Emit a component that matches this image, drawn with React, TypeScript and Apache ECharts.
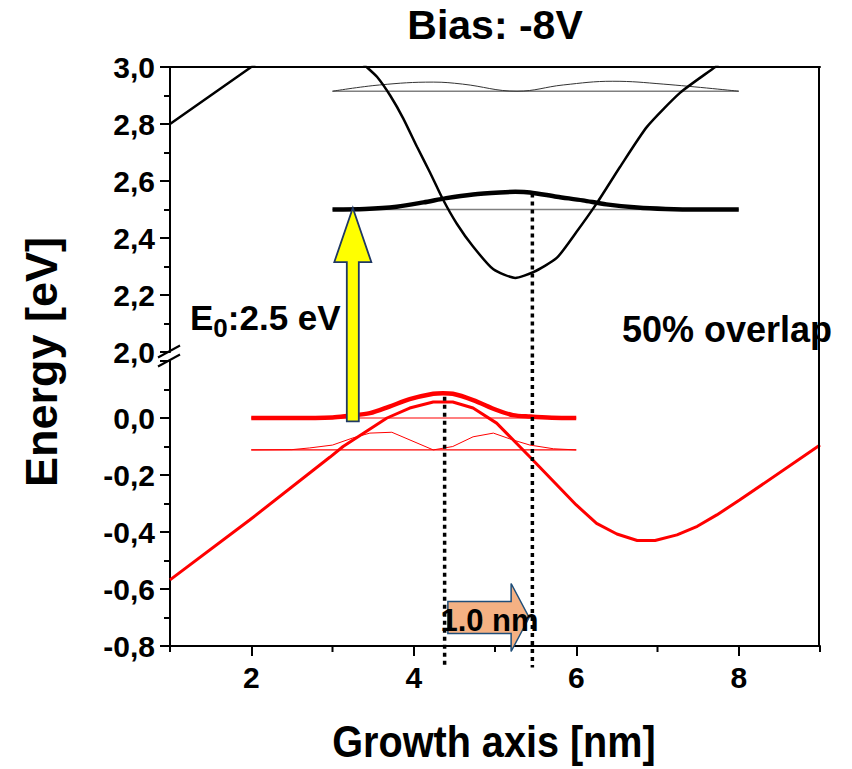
import React, { useEffect, useRef } from "react";
import * as echarts from "echarts";

// ---------- data ----------
// Upper panel: conduction band (eV)
const cbBarrierX = [1.0, 1.5, 2.0, 2.1];
const cbBarrierY = [2.8, 2.9, 3.0, 3.02];
const cbWellX = [3.38, 3.42, 3.55, 3.71, 3.87, 4.04, 4.2, 4.36, 4.53, 4.73, 4.98, 5.25, 5.47, 5.76, 6.0, 6.26, 6.54, 6.87, 7.28, 7.71, 7.75];
const cbWellY = [3.01, 3.0, 2.965, 2.9, 2.82, 2.72, 2.63, 2.535, 2.45, 2.37, 2.29, 2.26, 2.28, 2.33, 2.42, 2.525, 2.65, 2.79, 2.91, 3.0, 3.01];
// electron ground state level and wavefunction
const e1LevelX = [3, 8];
const e1LevelY = [2.5, 2.5];
const e1WaveX = [3, 3.4, 3.79, 4.12, 4.4, 4.73, 5.06, 5.25, 5.43, 5.76, 6.08, 6.37, 6.75, 7.1, 7.5, 8];
const e1WaveY = [2.5, 2.502, 2.51, 2.525, 2.54, 2.553, 2.56, 2.562, 2.56, 2.545, 2.532, 2.518, 2.507, 2.502, 2.5, 2.5];
// electron excited state
const e2LevelX = [3, 8];
const e2LevelY = [2.915, 2.915];
const e2WaveX = [3, 3.58, 4.24, 4.6, 5.27, 5.84, 6.45, 7.07, 8];
const e2WaveY = [2.915, 2.937, 2.947, 2.94, 2.915, 2.937, 2.95, 2.94, 2.915];

// Lower panel: valence band (eV)
const vbX = [1.0, 1.98, 2.97, 3.13, 3.67, 3.95, 4.24, 4.48, 4.73, 5.02, 5.43, 6.0, 6.25, 6.5, 6.75, 6.97, 7.24, 7.49, 7.73, 8.01, 9.0];
const vbY = [-0.568, -0.358, -0.137, -0.1, 0.0, 0.035, 0.056, 0.056, 0.035, -0.018, -0.137, -0.305, -0.37, -0.407, -0.43, -0.43, -0.41, -0.38, -0.34, -0.288, -0.095];
// hole ground state
const h1LevelX = [2, 6];
const h1LevelY = [0, 0];
const h1WaveX = [2, 2.5, 3.0, 3.2, 3.46, 3.7, 3.95, 4.24, 4.36, 4.48, 4.73, 5.02, 5.22, 5.43, 5.7, 6];
const h1WaveY = [0, 0, 0.002, 0.008, 0.017, 0.04, 0.066, 0.085, 0.087, 0.085, 0.063, 0.028, 0.01, 0.005, 0.001, 0];
// hole excited state
const h2LevelX = [2, 6];
const h2LevelY = [-0.112, -0.112];
const h2WaveX = [2, 2.5, 2.72, 3.0, 3.25, 3.46, 3.73, 4.24, 4.48, 4.73, 4.98, 5.22, 5.43, 5.72, 6];
const h2WaveY = [-0.112, -0.111, -0.105, -0.095, -0.07, -0.053, -0.05, -0.112, -0.1, -0.066, -0.053, -0.077, -0.095, -0.108, -0.112];

// dotted markers (wavefunction maxima)
const dot1X = [4.38, 4.38];
const dot1LowerY = [0.075, -0.875];
const dot2X = [5.46, 5.46];
const dot2UpperY = [2.556, 1.965];
const dot2LowerY = [0.2, -0.875];

// axes
const xTickMajor = [2, 4, 6, 8];
const xTickMinor = [1, 3, 5, 7, 9];
const upperRange = [2.0, 3.0];
const lowerRange = [-0.8, 0.2];

// annotations (data coordinates)
const transitionX = 3.25; // yellow arrow
const transitionFrom = -0.012;
const transitionTo = 2.505;
const shiftFromX = 4.42; // orange arrow
const shiftToX = 5.42;
const shiftY = -0.7;

const FONT = '"Liberation Sans", Arial, Helvetica, sans-serif';

const toPairs = (xs: number[], ys: number[]) => xs.map((x, i) => [x, ys[i]]);

function line(grid: number, xs: number[], ys: number[], color: string, width: number, extra: any = {}) {
  return {
    type: "line",
    xAxisIndex: grid,
    yAxisIndex: grid,
    data: toPairs(xs, ys),
    symbol: "none",
    silent: true,
    lineStyle: { color, width },
    itemStyle: { color },
    ...extra,
  };
}

const fmt = (v: number) => (v > 0.15 && v < 1 ? "" : v.toFixed(1).replace(".", ","));

const yAxisCommon = {
  type: "value",
  interval: 0.2,
  axisLine: { show: true, onZero: false, lineStyle: { color: "#000", width: 2 } },
  axisTick: { show: true, inside: false, length: 10, lineStyle: { color: "#000", width: 2 } },
  minorTick: { show: true, splitNumber: 2, length: 6, lineStyle: { color: "#000", width: 2 } },
  splitLine: { show: false },
  axisLabel: {
    color: "#000",
    fontFamily: FONT,
    fontWeight: "bold",
    fontSize: 30,
    margin: 15,
    formatter: fmt,
    showMinLabel: true,
    showMaxLabel: true,
    hideOverlap: false,
  },
};

const option: any = {
  animation: false,
  backgroundColor: "#fff",
  grid: [
    { left: 170, top: 67, width: 650, height: 285, outerBoundsMode: "none", containLabel: false },
    { left: 170, top: 361, width: 650, height: 285, outerBoundsMode: "none", containLabel: false },
  ],
  xAxis: [
    {
      type: "value",
      gridIndex: 0,
      position: "top",
      min: 1,
      max: 9,
      interval: 1,
      axisLine: { show: true, onZero: false, lineStyle: { color: "#000", width: 2 } },
      axisTick: { show: false },
      axisLabel: { show: false },
      splitLine: { show: false },
    },
    {
      type: "value",
      gridIndex: 1,
      position: "bottom",
      min: 1,
      max: 9,
      interval: 1,
      axisLine: { show: true, onZero: false, lineStyle: { color: "#000", width: 2 } },
      axisTick: { show: true, inside: false, length: 10, customValues: xTickMajor, lineStyle: { color: "#000", width: 2 } },
      axisLabel: {
        color: "#000",
        fontFamily: FONT,
        fontWeight: "bold",
        fontSize: 30,
        margin: 16,
        customValues: xTickMajor,
        formatter: (v: number) => String(v),
      },
      splitLine: { show: false },
    },
  ],
  yAxis: [
    { ...yAxisCommon, gridIndex: 0, position: "left", min: upperRange[0], max: upperRange[1] },
    { ...yAxisCommon, gridIndex: 1, position: "left", min: lowerRange[0], max: lowerRange[1] },
  ],
  series: [
    // upper panel
    line(0, e2LevelX, e2LevelY, "#808080", 1.5),
    line(0, e2WaveX, e2WaveY, "#333", 1, { smooth: 0.4 }),
    line(0, e1LevelX, e1LevelY, "#808080", 1.5),
    line(0, cbBarrierX, cbBarrierY, "#000", 2.5),
    line(0, cbWellX, cbWellY, "#000", 2.5, { smooth: 0.2 }),
    line(0, e1WaveX, e1WaveY, "#000", 4.5, { smooth: 0.3 }),
    line(0, dot2X, dot2UpperY, "#000", 3.5, { clip: false, lineStyle: { color: "#000", width: 3.5, type: [4, 4] } }),
    // lower panel
    line(1, h1LevelX, h1LevelY, "#ff0000", 1.2),
    line(1, h2LevelX, h2LevelY, "#ff0000", 1.2),
    line(1, h2WaveX, h2WaveY, "#ff0000", 1),
    line(1, vbX, vbY, "#ff0000", 3),
    line(1, h1WaveX, h1WaveY, "#ff0000", 4.5, { smooth: 0.3 }),
    line(1, dot1X, dot1LowerY, "#000", 3.5, { clip: false, lineStyle: { color: "#000", width: 3.5, type: [4, 4] } }),
    line(1, dot2X, dot2LowerY, "#000", 3.5, { clip: false, lineStyle: { color: "#000", width: 3.5, type: [4, 4] } }),
  ],
};

export default function App() {
  const ref = useRef<HTMLDivElement>(null);
  useEffect(() => {
    const chart = echarts.init(ref.current!, null, { renderer: "svg" });
    chart.setOption(option);

    const p0 = (x: number, y: number) => chart.convertToPixel({ gridIndex: 0 }, [x, y]) as number[];
    const p1 = (x: number, y: number) => chart.convertToPixel({ gridIndex: 1 }, [x, y]) as number[];
    const g0a = p0(1, upperRange[1]);
    const g1b = p1(9, lowerRange[0]);
    const gBreakTop = p0(1, upperRange[0]);
    const gBreakBot = p1(1, lowerRange[1]);

    // yellow transition arrow
    const [tx, ty] = p0(transitionX, transitionTo);
    const [, by] = p1(transitionX, transitionFrom);
    const headH = 54, headW = 18.5, shaftW = 6;
    const yellowPts = [
      [tx, ty], [tx + headW, ty + headH], [tx + shaftW, ty + headH], [tx + shaftW, by],
      [tx - shaftW, by], [tx - shaftW, ty + headH], [tx - headW, ty + headH],
    ];
    // orange shift arrow
    const [lx, cy] = p1(shiftFromX, shiftY);
    const [rx] = p1(shiftToX, shiftY);
    const sH = 16, hH = 34, hL = 18;
    const orangePts = [
      [lx, cy - sH], [rx - hL, cy - sH], [rx - hL, cy - hH], [rx, cy],
      [rx - hL, cy + hH], [rx - hL, cy + sH], [lx, cy + sH],
    ];

    const rightX = g1b[0] - 1;
    const leftX = g0a[0];
    const bottomY = g1b[1];
    const breakMid = (gBreakTop[1] + gBreakBot[1]) / 2;

    // minor x ticks (odd values), positioned through the x scale
    const minorTicks = xTickMinor.map((v) => {
      const [px] = p1(v, lowerRange[0]);
      return { type: "line", z: 5, shape: { x1: px, y1: bottomY, x2: px, y2: bottomY + 6 }, style: { stroke: "#000", lineWidth: 2 } };
    });

    chart.setOption({
      graphic: [
        ...minorTicks,
        // right frame line
        { type: "line", z: 5, shape: { x1: rightX, y1: g0a[1], x2: rightX, y2: g1b[1] }, style: { stroke: "#000", lineWidth: 2 } },
        // axis break marks
        { type: "line", z: 5, shape: { x1: leftX - 12, y1: breakMid + 1, x2: leftX + 10, y2: breakMid - 11 }, style: { stroke: "#000", lineWidth: 2 } },
        { type: "line", z: 5, shape: { x1: leftX - 12, y1: breakMid + 10, x2: leftX + 10, y2: breakMid - 2 }, style: { stroke: "#000", lineWidth: 2 } },
        // orange arrow (under dotted lines)
        { type: "polygon", z: 1, shape: { points: orangePts }, style: { fill: "#F4B183", stroke: "#1F4E79", lineWidth: 1.5 } },
        // yellow arrow
        { type: "polygon", z: 50, shape: { points: yellowPts }, style: { fill: "#FFFF00", stroke: "#1F3864", lineWidth: 1.8 } },
        // texts
        { type: "text", z: 60, x: 495, y: 24.5, style: { text: "Bias: -8V", font: `bold 41px ${FONT}`, fill: "#000", align: "center", verticalAlign: "middle" } },
        { type: "text", z: 60, x: 190, y: 317.5, style: { text: "E", font: `bold 35px ${FONT}`, fill: "#000", align: "left", verticalAlign: "middle" } },
        { type: "text", z: 60, x: 213.3, y: 328, style: { text: "0", font: `bold 26px ${FONT}`, fill: "#000", align: "left", verticalAlign: "middle" } },
        { type: "text", z: 60, x: 227.8, y: 317.5, style: { text: ":2.5 eV", font: `bold 35px ${FONT}`, fill: "#000", align: "left", verticalAlign: "middle" } },
        { type: "text", z: 60, x: 622, y: 329, style: { text: "50% overlap", font: `bold 36px ${FONT}`, fill: "#000", align: "left", verticalAlign: "middle" } },
        { type: "text", z: 60, x: 489.5, y: 620.5, style: { text: "1.0 nm", font: `bold 31px ${FONT}`, fill: "#000", align: "center", verticalAlign: "middle" } },
        { type: "text", z: 60, x: 41.5, y: 362, rotation: Math.PI / 2, style: { text: "Energy [eV]", font: `bold 45px ${FONT}`, fill: "#000", align: "center", verticalAlign: "middle" } },
        { type: "text", z: 60, x: 494, y: 742, scaleX: 0.88, style: { text: "Growth axis [nm]", font: `bold 45px ${FONT}`, fill: "#000", align: "center", verticalAlign: "middle" } },
      ],
    });
    return () => chart.dispose();
  }, []);
  return <div ref={ref} style={{ position: "fixed", left: 0, top: 0, width: 852, height: 769 }} />;
}
